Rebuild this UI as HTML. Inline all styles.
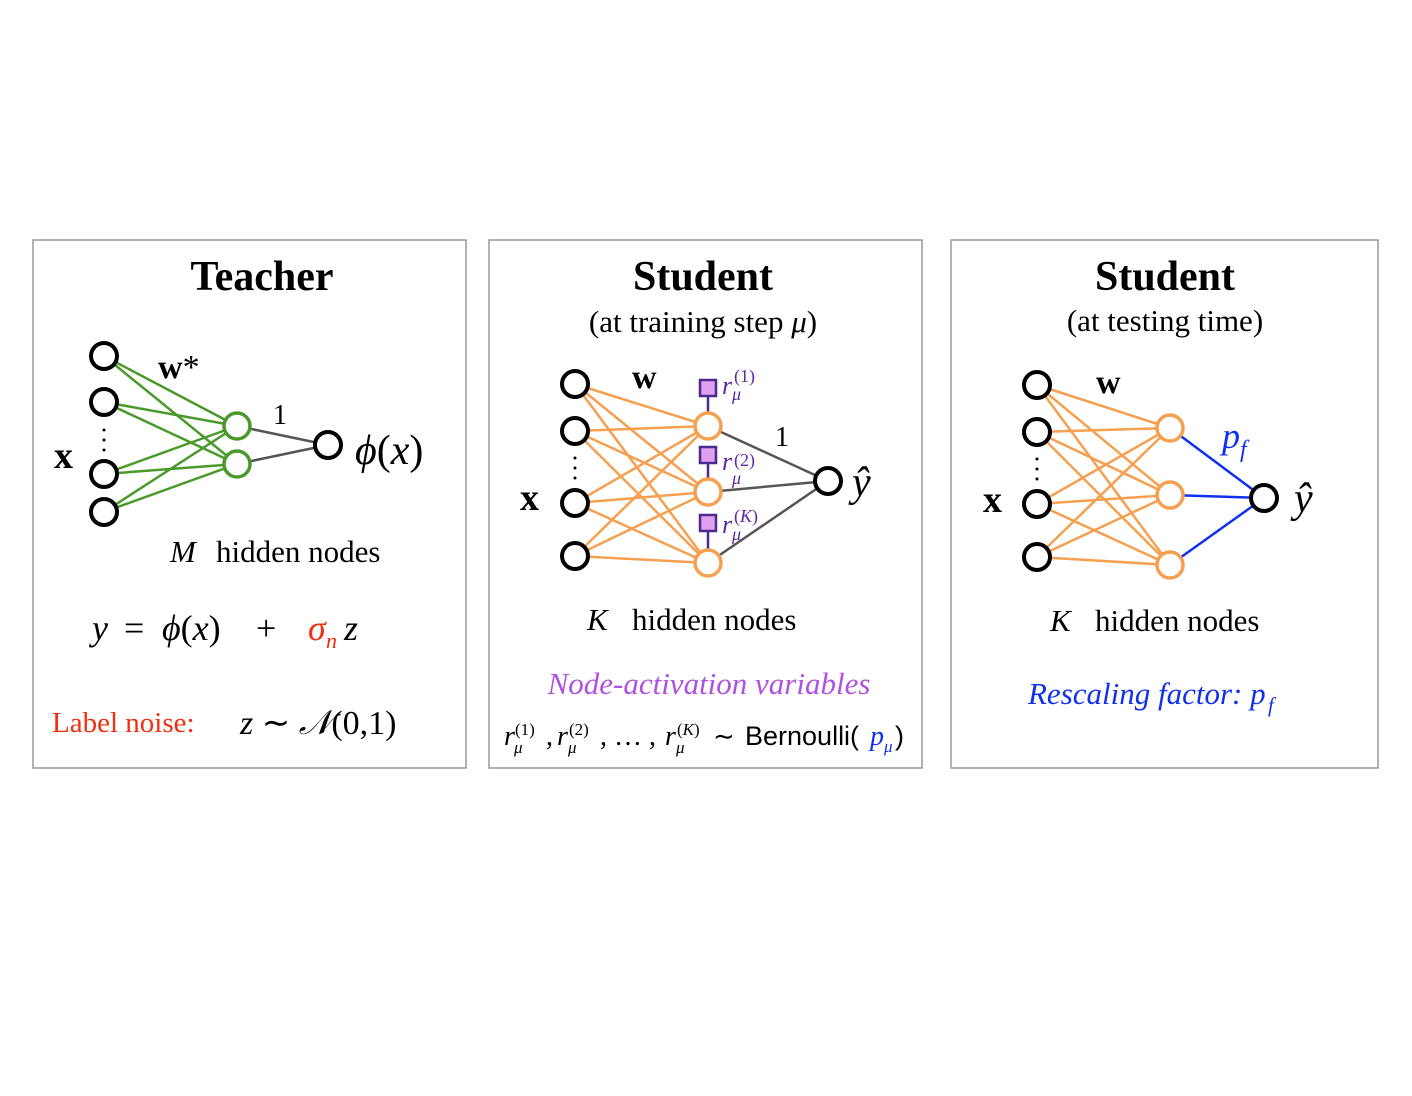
<!DOCTYPE html>
<html><head><meta charset="utf-8"><style>
body{margin:0;background:#fff}
svg text{font-family:"Liberation Serif",serif}
</style></head><body>
<svg width="1412" height="1091" xmlns="http://www.w3.org/2000/svg">
<g fill="none" stroke="#999" stroke-width="1.5">
<rect x="33" y="240" width="433" height="528"/>
<rect x="489" y="240" width="433" height="528"/>
<rect x="951" y="240" width="427" height="528"/>
</g>
<!-- Teacher -->
<g stroke="#4a9a2a" stroke-width="2.5">
<line x1="104" y1="356" x2="237" y2="426"/><line x1="104" y1="356" x2="237" y2="464"/>
<line x1="104" y1="402" x2="237" y2="426"/><line x1="104" y1="402" x2="237" y2="464"/>
<line x1="104" y1="474" x2="237" y2="426"/><line x1="104" y1="474" x2="237" y2="464"/>
<line x1="104" y1="512" x2="237" y2="426"/><line x1="104" y1="512" x2="237" y2="464"/>
</g>
<g stroke="#555" stroke-width="2.5"><line x1="237" y1="426" x2="328" y2="445"/><line x1="237" y1="464" x2="328" y2="445"/></g>
<g fill="#fff" stroke="#000" stroke-width="4">
<circle cx="104" cy="356" r="13"/><circle cx="104" cy="402" r="13"/><circle cx="104" cy="474" r="13"/><circle cx="104" cy="512" r="13"/><circle cx="328" cy="445" r="13"/>
</g>
<g fill="#fff" stroke="#4a9a2a" stroke-width="3.5"><circle cx="237" cy="426" r="13"/><circle cx="237" cy="464" r="13"/></g>
<g fill="#000"><circle cx="104" cy="430" r="1.5"/><circle cx="104" cy="440" r="1.5"/><circle cx="104" cy="450" r="1.5"/></g>
<text x="262" y="290" font-size="42" font-weight="bold" text-anchor="middle">Teacher</text>
<text x="158" y="378" font-size="34" font-weight="bold">w<tspan font-weight="normal">*</tspan></text>
<text x="273" y="424" font-size="28">1</text>
<text x="355" y="464" font-size="42" font-style="italic">ϕ<tspan font-style="normal">(</tspan>x<tspan font-style="normal">)</tspan></text>
<text x="54" y="468" font-size="38" font-weight="bold">x</text>
<text x="170" y="562" font-size="31" font-style="italic">M</text>
<text x="216" y="562" font-size="31">hidden nodes</text>
<g font-size="36">
<text x="92" y="640" font-style="italic">y</text>
<text x="124" y="640">=</text>
<text x="162" y="640" font-style="italic">ϕ<tspan font-style="normal">(</tspan>x<tspan font-style="normal">)</tspan></text>
<text x="256" y="640">+</text>
<text x="308" y="640" font-style="italic" fill="#f03010">σ</text>
<text x="326" y="648" font-size="22" font-style="italic" fill="#f03010">n</text>
<text x="344" y="640" font-style="italic">z</text>
</g>
<text x="52" y="732" font-size="29" fill="#f03010">Label noise:</text>
<text x="240" y="734" font-size="34"><tspan font-style="italic">z</tspan> ∼ <tspan font-style="italic">𝒩</tspan>(0,1)</text>
<!-- Student training -->
<g stroke="#f5a050" stroke-width="2.5">
<line x1="575" y1="384" x2="708" y2="426"/><line x1="575" y1="384" x2="708" y2="492"/><line x1="575" y1="384" x2="708" y2="563"/>
<line x1="575" y1="431" x2="708" y2="426"/><line x1="575" y1="431" x2="708" y2="492"/><line x1="575" y1="431" x2="708" y2="563"/>
<line x1="575" y1="503" x2="708" y2="426"/><line x1="575" y1="503" x2="708" y2="492"/><line x1="575" y1="503" x2="708" y2="563"/>
<line x1="575" y1="556" x2="708" y2="426"/><line x1="575" y1="556" x2="708" y2="492"/><line x1="575" y1="556" x2="708" y2="563"/>
</g>
<g stroke="#555" stroke-width="2.5"><line x1="708" y1="426" x2="828" y2="481"/><line x1="708" y1="492" x2="828" y2="481"/><line x1="708" y1="563" x2="828" y2="481"/></g>
<g stroke="#4a2a8a" stroke-width="2.5"><line x1="708" y1="396" x2="708" y2="414"/><line x1="708" y1="463" x2="708" y2="480"/><line x1="708" y1="531" x2="708" y2="550"/></g>
<g fill="#e0a0f0" stroke="#4a2a8a" stroke-width="2.5">
<rect x="700" y="380" width="16" height="16"/><rect x="700" y="447" width="16" height="16"/><rect x="700" y="515" width="16" height="16"/>
</g>
<g fill="#fff" stroke="#000" stroke-width="4">
<circle cx="575" cy="384" r="13"/><circle cx="575" cy="431" r="13"/><circle cx="575" cy="503" r="13"/><circle cx="575" cy="556" r="13"/><circle cx="828" cy="481" r="13"/>
</g>
<g fill="#fff" stroke="#f5a050" stroke-width="3.5"><circle cx="708" cy="426" r="13"/><circle cx="708" cy="492" r="13"/><circle cx="708" cy="563" r="13"/></g>
<g fill="#000"><circle cx="575" cy="458" r="1.5"/><circle cx="575" cy="468" r="1.5"/><circle cx="575" cy="478" r="1.5"/></g>
<g fill="#5a2aa0" font-style="italic">
<text x="722" y="394" font-size="26">r</text><text x="734" y="382" font-size="18" font-style="normal">(1)</text><text x="732" y="400" font-size="18">μ</text>
<text x="722" y="470" font-size="26">r</text><text x="734" y="466" font-size="18" font-style="normal">(2)</text><text x="732" y="484" font-size="18">μ</text>
<text x="722" y="533" font-size="26">r</text><text x="734" y="522" font-size="18" font-style="normal">(<tspan font-style="italic">K</tspan>)</text><text x="732" y="540" font-size="18">μ</text>
</g>
<text x="703" y="290" font-size="42" font-weight="bold" text-anchor="middle">Student</text>
<text x="703" y="332" font-size="31" text-anchor="middle">(at training step <tspan font-style="italic">μ</tspan>)</text>
<text x="632" y="388" font-size="34" font-weight="bold">w</text>
<text x="775" y="446" font-size="28">1</text>
<text x="852" y="496" font-size="42" font-style="italic">ŷ</text>
<text x="520" y="510" font-size="38" font-weight="bold">x</text>
<text x="587" y="630" font-size="31" font-style="italic">K</text>
<text x="632" y="630" font-size="31">hidden nodes</text>
<text x="709" y="694" font-size="31" font-style="italic" fill="#b050e0" text-anchor="middle">Node-activation variables</text>
<g font-size="28">
<text x="504" y="745" font-style="italic">r</text><text x="515" y="735" font-size="17">(1)</text><text x="514" y="753" font-size="17" font-style="italic">μ</text>
<text x="546" y="745">,</text>
<text x="557" y="745" font-style="italic">r</text><text x="569" y="735" font-size="17">(2)</text><text x="568" y="753" font-size="17" font-style="italic">μ</text>
<text x="600" y="745">, … ,</text>
<text x="665" y="745" font-style="italic">r</text><text x="677" y="735" font-size="17">(<tspan font-style="italic">K</tspan>)</text><text x="676" y="753" font-size="17" font-style="italic">μ</text>
<text x="713" y="745" font-size="26">∼</text>
<text x="745" y="745" font-size="27" style="font-family:'Liberation Sans',sans-serif">Bernoulli(</text>
<text x="870" y="745" font-style="italic" fill="#1030f0">p</text><text x="884" y="752" font-size="17" font-style="italic" fill="#1030f0">μ</text>
<text x="895" y="745" font-size="27" style="font-family:'Liberation Sans',sans-serif">)</text>
</g>
<!-- Student test -->
<g stroke="#f5a050" stroke-width="2.5">
<line x1="1037" y1="385" x2="1170" y2="428"/><line x1="1037" y1="385" x2="1170" y2="495"/><line x1="1037" y1="385" x2="1170" y2="565"/>
<line x1="1037" y1="432" x2="1170" y2="428"/><line x1="1037" y1="432" x2="1170" y2="495"/><line x1="1037" y1="432" x2="1170" y2="565"/>
<line x1="1037" y1="504" x2="1170" y2="428"/><line x1="1037" y1="504" x2="1170" y2="495"/><line x1="1037" y1="504" x2="1170" y2="565"/>
<line x1="1037" y1="557" x2="1170" y2="428"/><line x1="1037" y1="557" x2="1170" y2="495"/><line x1="1037" y1="557" x2="1170" y2="565"/>
</g>
<g stroke="#1030f0" stroke-width="2.5"><line x1="1170" y1="428" x2="1264" y2="498"/><line x1="1170" y1="495" x2="1264" y2="498"/><line x1="1170" y1="565" x2="1264" y2="498"/></g>
<g fill="#fff" stroke="#000" stroke-width="4">
<circle cx="1037" cy="385" r="13"/><circle cx="1037" cy="432" r="13"/><circle cx="1037" cy="504" r="13"/><circle cx="1037" cy="557" r="13"/><circle cx="1264" cy="498" r="13"/>
</g>
<g fill="#fff" stroke="#f5a050" stroke-width="3.5"><circle cx="1170" cy="428" r="13"/><circle cx="1170" cy="495" r="13"/><circle cx="1170" cy="565" r="13"/></g>
<g fill="#000"><circle cx="1037" cy="459" r="1.5"/><circle cx="1037" cy="469" r="1.5"/><circle cx="1037" cy="479" r="1.5"/></g>
<text x="1165" y="290" font-size="42" font-weight="bold" text-anchor="middle">Student</text>
<text x="1165" y="331" font-size="31" text-anchor="middle">(at testing time)</text>
<text x="1096" y="393" font-size="34" font-weight="bold">w</text>
<text x="1222" y="448" font-size="36" font-style="italic" fill="#1030f0">p</text><text x="1240" y="457" font-size="24" font-style="italic" fill="#1030f0">f</text>
<text x="1294" y="512" font-size="42" font-style="italic">ŷ</text>
<text x="983" y="512" font-size="38" font-weight="bold">x</text>
<text x="1050" y="631" font-size="31" font-style="italic">K</text>
<text x="1095" y="631" font-size="31">hidden nodes</text>
<text x="1028" y="704" font-size="31" font-style="italic" fill="#1030f0">Rescaling factor: p</text><text x="1268" y="712" font-size="21" font-style="italic" fill="#1030f0">f</text>
</svg>
</body></html>
